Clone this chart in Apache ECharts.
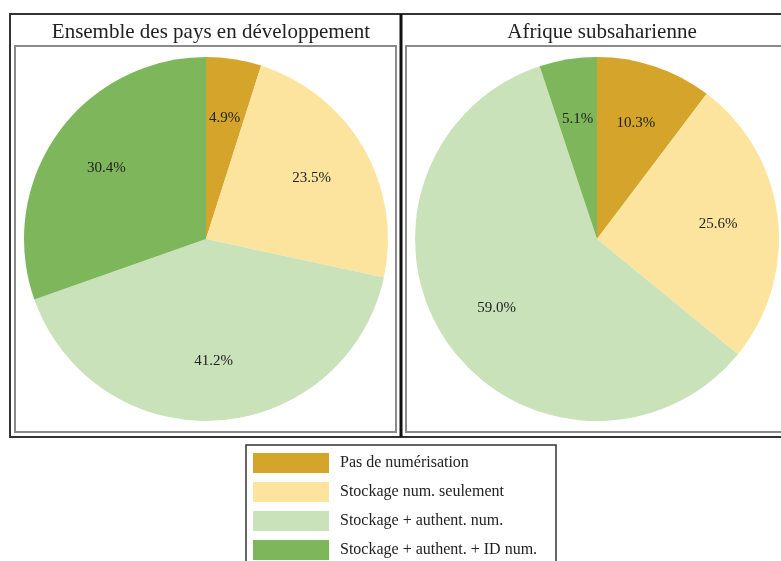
<!DOCTYPE html>
<html lang="fr">
<head>
    <meta charset="UTF-8">
    <script src="https://cdn.jsdelivr.net/npm/echarts@6/dist/echarts.min.js"></script>
    <title>Numérisation</title>
    <style>
        html, body { margin: 0; padding: 0; background: #fff; }
        #myChart { width: 781px; height: 561px; }
    </style>
</head>
<body>
    <div id="myChart"></div>
    <script>
        // data
        var categories = ['Pas de numérisation', 'Stockage num. seulement', 'Stockage + authent. num.', 'Stockage + authent. + ID num.'];
        var colors = ['#D4A52A', '#FDE49E', '#C9E2BA', '#7EB65C'];
        var panelTitles = ['Ensemble des pays en développement', 'Afrique subsaharienne'];
        var devValues = [4.9, 23.5, 41.2, 30.4];
        var ssaValues = [10.3, 25.6, 59.0, 5.1];

        var serif = '"Liberation Serif", "DejaVu Serif", serif';
        var textColor = '#222';

        function toData(vals) {
            return vals.map(function (v, i) {
                return { name: categories[i], value: v, itemStyle: { color: colors[i] } };
            });
        }

        function pieSeries(vals, cx) {
            // colored pie
            var main = {
                type: 'pie',
                center: [cx, 239],
                radius: 182,
                startAngle: 90,
                clockwise: true,
                silent: true,
                label: { show: false },
                labelLine: { show: false },
                itemStyle: { borderWidth: 0 },
                data: toData(vals)
            };
            // invisible wider pie, just so the labels land at the right distance
            var labels = {
                type: 'pie',
                center: [cx, 239],
                radius: 238,
                startAngle: 90,
                clockwise: true,
                silent: true,
                legendHoverLink: false,
                label: {
                    show: true,
                    position: 'inside',
                    formatter: function (p) { return p.value.toFixed(1) + '%'; },
                    fontFamily: serif,
                    fontSize: 15,
                    color: textColor
                },
                labelLine: { show: false },
                itemStyle: { color: 'rgba(0,0,0,0)', borderWidth: 0 },
                data: vals.map(function (v, i) { return { name: categories[i] + ' ', value: v }; })
            };
            return [main, labels];
        }

        var myChart = echarts.init(document.getElementById('myChart'));

        var frameGray = '#8a8a8a';
        var frameDark = '#333';

        var option = {
            animation: false,
            title: [{
                text: panelTitles[0],
                left: 206,
                top: 17,
                textAlign: 'center',
                textStyle: { fontFamily: serif, fontSize: 21, fontWeight: 'normal', color: textColor }
            }, {
                text: panelTitles[1],
                left: 597,
                top: 17,
                textAlign: 'center',
                textStyle: { fontFamily: serif, fontSize: 21, fontWeight: 'normal', color: textColor }
            }],
            legend: {
                orient: 'vertical',
                left: 253,
                top: 453,
                padding: 0,
                itemWidth: 76,
                itemHeight: 20,
                itemGap: 9,
                icon: 'rect',
                selectedMode: false,
                data: categories,
                textStyle: { fontFamily: serif, fontSize: 16, color: textColor, padding: [0, 0, 0, 6] }
            },
            graphic: [
                // outer frame
                { type: 'rect', shape: { x: 10, y: 14, width: 780, height: 423 }, style: { fill: 'none', stroke: frameDark, lineWidth: 2 }, z: 10 },
                // divider between panels
                { type: 'line', shape: { x1: 401, y1: 14, x2: 401, y2: 437 }, style: { stroke: '#111', lineWidth: 3 }, z: 10 },
                // inner frames
                { type: 'rect', shape: { x: 15, y: 46, width: 381, height: 386 }, style: { fill: 'none', stroke: frameGray, lineWidth: 2 }, z: 10 },
                { type: 'rect', shape: { x: 406, y: 46, width: 390, height: 386 }, style: { fill: 'none', stroke: frameGray, lineWidth: 2 }, z: 10 },
                // legend box
                { type: 'rect', shape: { x: 246, y: 445, width: 310, height: 130 }, style: { fill: 'none', stroke: frameDark, lineWidth: 1.5 }, z: 10 }
            ],
            series: pieSeries(devValues, 206).concat(pieSeries(ssaValues, 597))
        };
        myChart.setOption(option);
    </script>
</body>
</html>
